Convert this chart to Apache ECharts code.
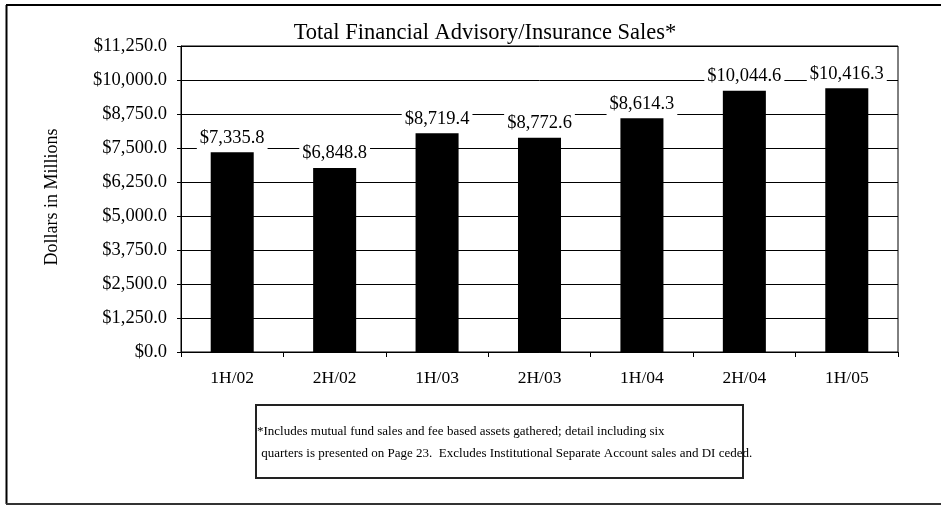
<!DOCTYPE html>
<html>
<head>
<meta charset="utf-8">
<script src="https://cdn.jsdelivr.net/npm/echarts@6/dist/echarts.min.js"></script>
<style>
  html, body { margin: 0; padding: 0; background: #fff; }
  #chart { width: 941px; height: 506px; }
</style>
</head>
<body>
<div id="chart"></div>
<script>
// half-year periods
var periods = ["1H/02", "2H/02", "1H/03", "2H/03", "1H/04", "2H/04", "1H/05"];
// bar heights as drawn in the picture
var barValues = [7340, 6765, 8040, 7880, 8590, 9605, 9695];
// values printed above the bars
var labelValues = [7335.8, 6848.8, 8719.4, 8772.6, 8614.3, 10044.6, 10416.3];
// y axis ticks
var yMin = 0, yMax = 11250, yStep = 1250;

var titleText = "Total Financial Advisory/Insurance Sales*";
var noteLines = [
  "*Includes mutual fund sales and fee based assets gathered; detail including six",
  " quarters is presented on Page 23.  Excludes Institutional Separate Account sales and DI ceded."
];

var serif = "Liberation Serif";

function money(v) {
  return "$" + v.toLocaleString("en-US", { minimumFractionDigits: 1, maximumFractionDigits: 1 });
}

var chart = echarts.init(document.getElementById("chart"));

var option = {
  animation: false,
  backgroundColor: "#fff",
  textStyle: { fontFamily: serif, color: "#000" },
  grid: {
    left: 181,
    right: 43,
    top: 46,
    bottom: 154,
    show: true,
    borderColor: "#000",
    borderWidth: 1
  },
  xAxis: {
    type: "category",
    data: periods,
    axisLine: { lineStyle: { color: "#000", width: 1 } },
    axisTick: { show: true, length: 5, lineStyle: { color: "#000" } },
    axisLabel: { color: "#000", fontFamily: serif, fontSize: 17.5, margin: 17 }
  },
  yAxis: {
    type: "value",
    min: yMin,
    max: yMax,
    interval: yStep,
    axisLine: { show: true, lineStyle: { color: "#000", width: 1 } },
    axisTick: { show: true, length: 4, lineStyle: { color: "#000" } },
    axisLabel: {
      color: "#000",
      fontFamily: serif,
      fontSize: 18.5,
      margin: 14,
      formatter: function (v) { return money(v); }
    },
    splitLine: { show: true, lineStyle: { color: "#000", width: 1 } }
  },
  series: [
    {
      type: "bar",
      data: barValues,
      barWidth: "42%",
      itemStyle: { color: "#000" },
      label: {
        show: true,
        position: "top",
        distance: 1,
        color: "#000",
        fontFamily: serif,
        fontSize: 18.5,
        backgroundColor: "#fff",
        padding: [2, 3, 4, 3],
        formatter: function (p) { return money(labelValues[p.dataIndex]); }
      }
    }
  ],
  graphic: [
    // outer frame
    { type: "line", shape: { x1: 6, y1: 5, x2: 941, y2: 5 }, style: { stroke: "#000", lineWidth: 2 } },
    { type: "line", shape: { x1: 6.5, y1: 5, x2: 6.5, y2: 504 }, style: { stroke: "#000", lineWidth: 2 } },
    { type: "line", shape: { x1: 6, y1: 504, x2: 941, y2: 504 }, style: { stroke: "#333", lineWidth: 2 } },
    // title
    {
      type: "text", x: 485, y: 33,
      style: { text: titleText, font: "22.5px " + serif, fill: "#000", textAlign: "center", textVerticalAlign: "middle" }
    },
    // y axis name
    {
      type: "text", x: 52, y: 197, rotation: Math.PI / 2,
      style: { text: "Dollars in Millions", font: "18px " + serif, fill: "#000", textAlign: "center", textVerticalAlign: "middle" }
    },
    // footnote box
    {
      type: "rect", shape: { x: 256, y: 405, width: 487, height: 73 },
      style: { fill: "#fff", stroke: "#222", lineWidth: 2 }
    },
    {
      type: "text", x: 257, y: 432,
      style: { text: noteLines[0], font: "13px " + serif, fill: "#000", textVerticalAlign: "middle" }
    },
    {
      type: "text", x: 258, y: 454,
      style: { text: noteLines[1], font: "13px " + serif, fill: "#000", textVerticalAlign: "middle" }
    }
  ]
};

chart.setOption(option);
</script>
</body>
</html>
